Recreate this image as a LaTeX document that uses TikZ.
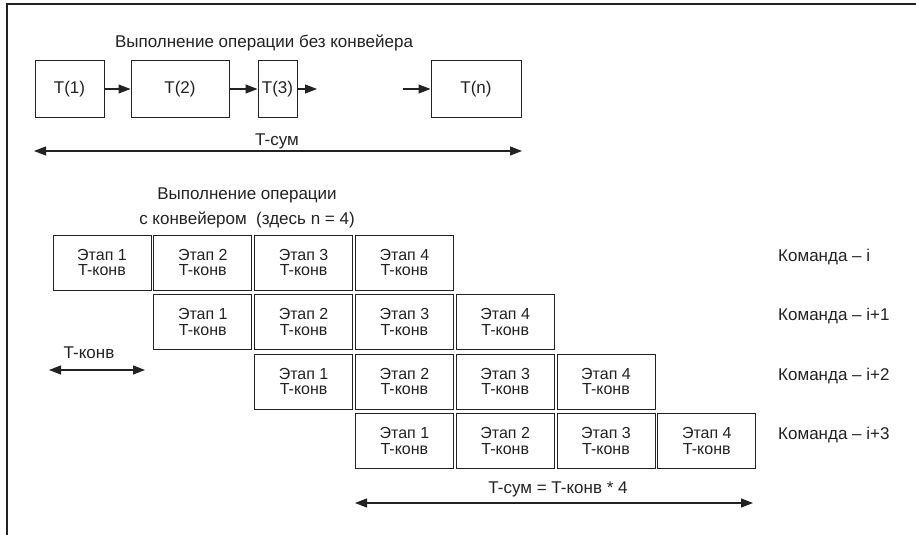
\documentclass[tikz,border=0pt]{standalone}
\usepackage{fontspec}
\setmainfont{Liberation Sans}
\usetikzlibrary{arrows.meta}
\definecolor{ink}{HTML}{222222}
\tikzset{
  lbl/.style={font=\fontsize{17}{19}\selectfont, text=ink, inner sep=0pt},
  tbox/.style={draw=ink, line width=1pt, minimum height=56pt, inner sep=0pt, font=\fontsize{17}{19}\selectfont, text=ink},
  stage/.style={draw=ink, line width=1pt, minimum width=98pt, minimum height=55pt, inner sep=0pt, align=center, font=\fontsize{16}{15.5}\selectfont, text=ink},
  arr/.style={draw=ink, line width=1.1pt, -{Triangle[length=12pt,width=9pt]}},
  darr/.style={draw=ink, line width=1.1pt, {Triangle[length=12pt,width=9pt]}-{Triangle[length=12pt,width=9pt]}},
}
\begin{document}
\begin{tikzpicture}[x=1pt,y=-1pt]
\useasboundingbox (0,0) rectangle (916,535);
% frame
\coordinate (fl) at (7,535);
\coordinate (fc) at (7,4);
\coordinate (fr) at (916,4);
\draw[ink, line width=1.4pt] (fl) -- (fc) -- (fr);
% top part
\node[lbl] (title1) at (264,43) {Выполнение операции без конвейера};
\node[tbox, minimum width=69pt] (t1) at (69.5,89) {T(1)};
\node[tbox, minimum width=98pt] (t2) at (180,89) {T(2)};
\node[tbox, minimum width=39pt] (t3) at (277.5,89) {T(3)};
\node[tbox, minimum width=90pt] (tn) at (476,89) {T(n)};
\coordinate (t3end) at (317,89);
\coordinate (tnstart) at (403,89);
\draw[arr] (t1) -- (t2);
\draw[arr] (t2) -- (t3);
\draw[arr] (t3) -- (t3end);
\draw[arr] (tnstart) -- (tn);
\node[lbl] (tsum) at (277,141) {T-сум};
\coordinate (ts1) at (34,151);
\coordinate (ts2) at (522,151);
\draw[darr] (ts1) -- (ts2);
% pipeline
\node[lbl, align=center, font=\fontsize{17}{25}\selectfont] (title2) at (247,207.5) {Выполнение операции\\с конвейером\ \ (здесь n = 4)};
\foreach \r in {0,1,2,3}{
  \foreach \s in {1,2,3,4}{
    \pgfmathsetmacro{\cx}{102+100.8*(\r+\s-1)}
    \pgfmathsetmacro{\cy}{262.5+59.5*\r}
    \node[stage] (s\r\s) at (\cx,\cy) {Этап \s\\T-конв};
  }
}
\node[lbl, anchor=west] (k0) at (778,257) {Команда – i};
\node[lbl, anchor=west] (k1) at (778,316.5) {Команда – i+1};
\node[lbl, anchor=west] (k2) at (778,376) {Команда – i+2};
\node[lbl, anchor=west] (k3) at (778,435.5) {Команда – i+3};
\node[lbl] (tkonv) at (89,353) {T-конв};
\coordinate (tk1) at (49,370);
\coordinate (tk2) at (145,370);
\draw[darr] (tk1) -- (tk2);
\node[lbl] (tsum2) at (558,489) {T-сум = T-конв * 4};
\coordinate (tb1) at (355,503);
\coordinate (tb2) at (753,503);
\draw[darr] (tb1) -- (tb2);
\end{tikzpicture}
\end{document}
